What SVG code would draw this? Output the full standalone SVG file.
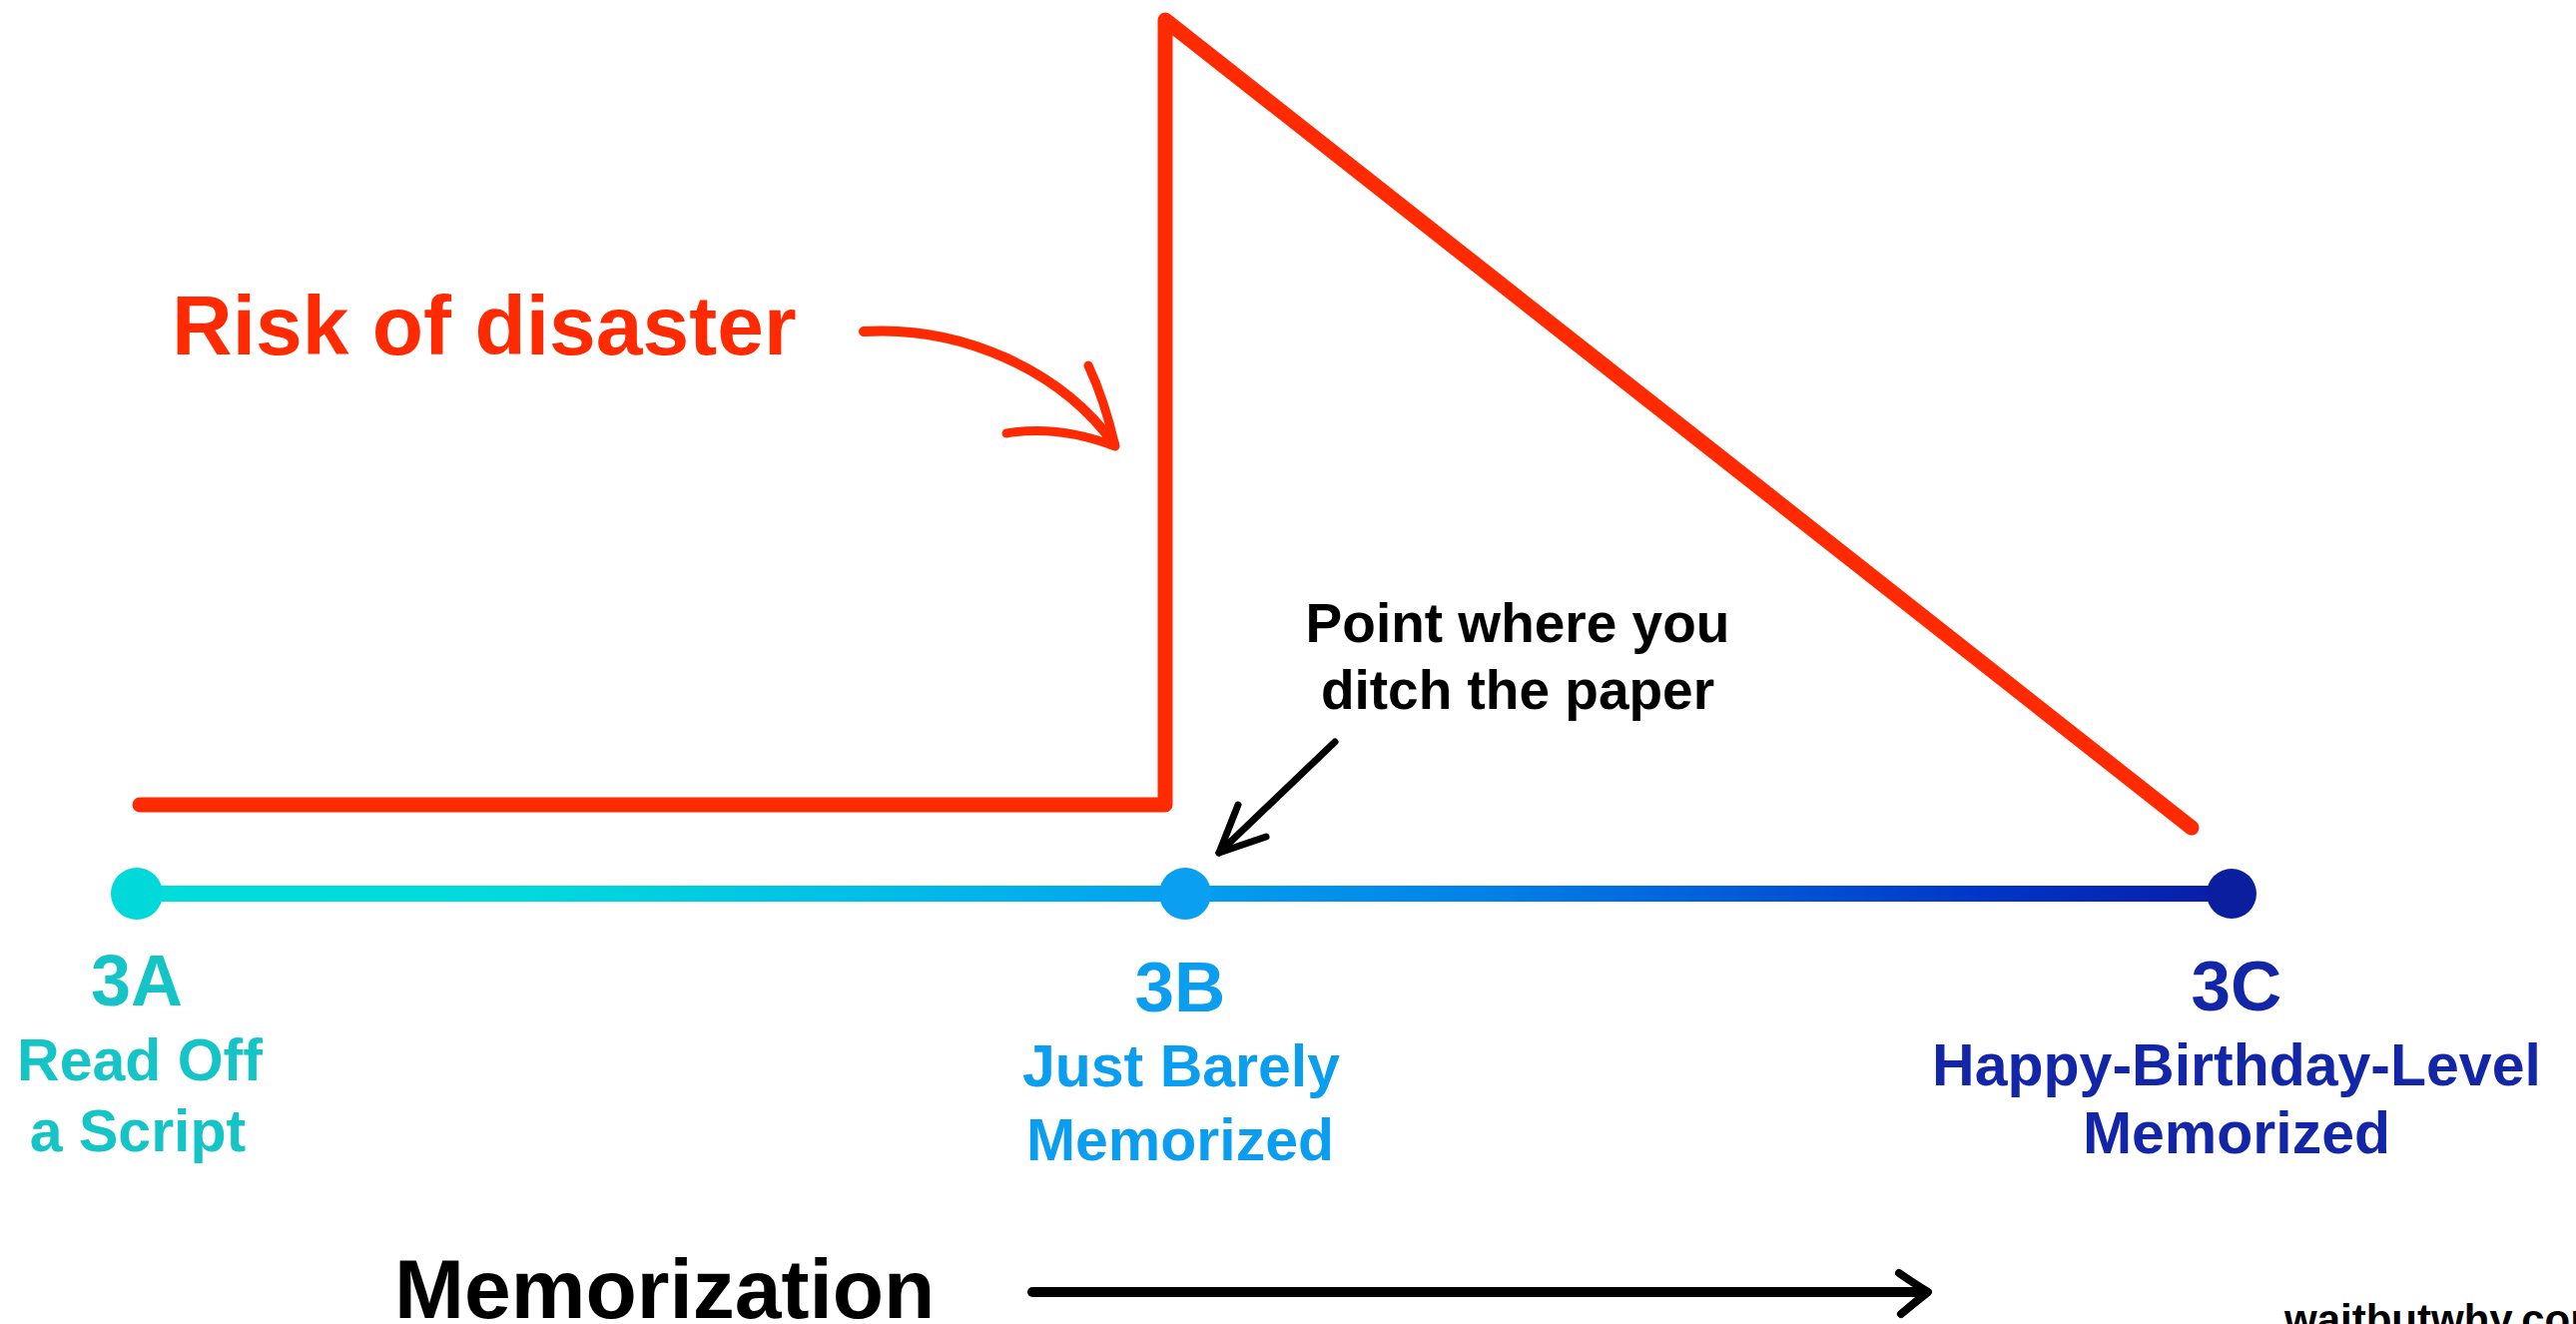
<svg xmlns="http://www.w3.org/2000/svg" width="2580" height="1326" viewBox="0 0 2580 1326">
<defs>
<style>
text{font-family:"Liberation Sans",Arial,Helvetica,sans-serif;font-weight:bold;}
.red{fill:#FF2A00;}
.blk{fill:#000;}
.c3a{fill:#14C4C6;}
.c3b{fill:#0A9DF0;}
.c3c{fill:#1426A8;}
.stage{font-size:71px;text-anchor:middle;}
.sub{font-size:59px;text-anchor:middle;}
.redln{fill:none;stroke:#FF2A00;stroke-linecap:round;stroke-linejoin:round;}
.blkln{fill:none;stroke:#000;stroke-linecap:round;stroke-linejoin:round;}
</style>
<linearGradient id="tl" gradientUnits="userSpaceOnUse" x1="137" y1="0" x2="2235" y2="0">
<stop offset="0" stop-color="#00DCDC"/>
<stop offset="0.18" stop-color="#00DADC"/>
<stop offset="0.36" stop-color="#00BCE8"/>
<stop offset="0.5" stop-color="#049FEE"/>
<stop offset="0.65" stop-color="#0080E6"/>
<stop offset="0.88" stop-color="#0036C8"/>
<stop offset="1" stop-color="#0A1CA6"/>
</linearGradient>
</defs>
<rect width="2580" height="1326" fill="#fff"/>

<g id="connectors">
<line id="timeline" x1="137" y1="895" x2="2235" y2="895" stroke="url(#tl)" stroke-width="16"/>
<path id="risk-curve" class="redln" stroke-width="15" d="M 140 806 H 1167 V 20 L 2195 829"/>
<g id="risk-pointer">
<path class="redln" stroke-width="10" d="M 865 332 C 962 326, 1062 370, 1116 445"/>
<path class="redln" stroke-width="9" d="M 1090 366 Q 1106 400 1117 447 Q 1060 425 1008 434"/>
</g>
<g id="ditch-pointer">
<path class="blkln" stroke-width="7" d="M 1337 743 L 1221 854"/>
<path class="blkln" stroke-width="7" d="M 1240 806 L 1221 854 L 1268 838"/>
</g>
<g id="memorization-axis">
<path class="blkln" stroke-width="10" d="M 1034 1294 H 1928"/>
<path class="blkln" stroke-width="8" d="M 1902 1275 Q 1918 1286 1931 1294 Q 1917 1305 1904 1316"/>
</g>
</g>

<g id="node-3A">
<circle cx="137" cy="895" r="26" fill="#00D8DA"/>
<text class="stage c3a" x="137" y="1007" style="font-size:72px">3A</text>
<text class="sub c3a" x="140" y="1082">Read Off</text>
<text class="sub c3a" x="138" y="1153">a Script</text>
</g>

<g id="node-3B">
<circle cx="1187" cy="895" r="26" fill="#0A9FF0"/>
<text class="stage c3b" x="1182" y="1013">3B</text>
<text class="sub c3b" x="1183" y="1088">Just Barely</text>
<text class="sub c3b" x="1182" y="1162">Memorized</text>
</g>

<g id="node-3C">
<circle cx="2235" cy="895" r="25" fill="#0A1E9E"/>
<text class="stage c3c" x="2240" y="1012">3C</text>
<text class="sub c3c" x="2240" y="1087">Happy-Birthday-Level</text>
<text class="sub c3c" x="2240" y="1155">Memorized</text>
</g>

<g id="label-risk">
<text class="red" x="172" y="355" style="font-size:84px">Risk of disaster</text>
</g>

<g id="label-ditch">
<text class="blk" x="1520" y="643" style="font-size:55px;text-anchor:middle">Point where you</text>
<text class="blk" x="1520" y="710" style="font-size:55px;text-anchor:middle">ditch the paper</text>
</g>

<g id="label-memorization">
<text class="blk" x="395" y="1320" style="font-size:84px">Memorization</text>
</g>

<g id="credit">
<text class="blk" x="2288" y="1336" style="font-size:42px">waitbutwhy.com</text>
</g>
</svg>
